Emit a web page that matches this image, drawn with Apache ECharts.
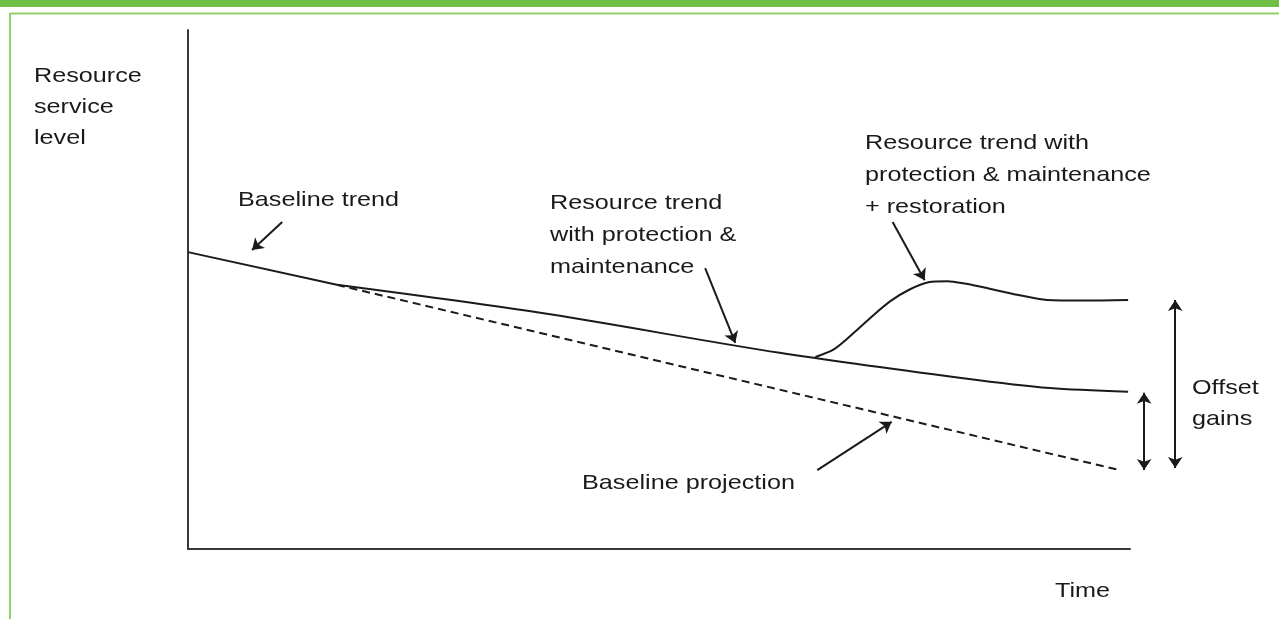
<!DOCTYPE html>
<html>
<head>
<meta charset="utf-8">
<title>Resource service level</title>
<script src="https://cdn.jsdelivr.net/npm/echarts@6/dist/echarts.min.js"></script>
<style>
  html, body { margin: 0; padding: 0; background: #fff; }
  #chart { width: 1279px; height: 619px; }
</style>
</head>
<body>
<div id="chart"></div>
<script>
// x: time (0-100), y: resource service level (0-100)
const baselineTrend = [[0, 57.2], [15.8, 50.9]];
const baselineProjection = [[15.8, 50.9], [98.9, 15.2]];
const protectionTrend = [[15.8, 50.9], [37.4, 45.5], [62.8, 37.8], [82.3, 32.9], [91.5, 31.0], [99.8, 30.3]];
const restorationTrend = [
  [66.6, 37.0], [68.6, 38.5], [70.6, 41.5], [72.6, 44.8], [74.6, 47.8], [76.6, 50.0],
  [78.6, 51.4], [80.6, 51.6], [82.6, 51.1], [85.0, 50.2], [88.0, 49.0], [91.2, 48.0],
  [95.0, 47.9], [99.8, 48.0]
];

// annotation arrows: [from, to]
const pointerArrows = [
  [[10.0, 63.0], [6.8, 57.6]],
  [[54.9, 54.1], [58.1, 39.7]],
  [[74.8, 63.0], [78.2, 51.8]],
  [[66.8, 15.2], [74.7, 24.5]]
];
// offset gains: double-headed arrows
const offsetArrows = [
  [[101.5, 30.1], [101.5, 15.2]],
  [[104.8, 48.0], [104.8, 15.6]]
];

const ink = '#1a1a1a';
const textScale = 1.2;

// 文本标注
function label(text, x, y, lh) {
  return {
    type: 'text',
    x: x, y: y,
    scaleX: textScale,
    style: {
      text: text,
      fill: ink,
      fontSize: 21,
      fontFamily: '"Liberation Sans", Arial, sans-serif',
      textAlign: 'left',
      textVerticalAlign: 'top',
      lineHeight: lh || 31
    }
  };
}

const chart = echarts.init(document.getElementById('chart'));

const option = {
  backgroundColor: '#fff',
  animation: false,
  grid: { left: 188, right: 149, top: 30, bottom: 70 },
  xAxis: {
    type: 'value', min: 0, max: 100,
    axisLine: { show: true, lineStyle: { color: '#3a3a3a', width: 2 } },
    axisTick: { show: false }, axisLabel: { show: false }, splitLine: { show: false }
  },
  yAxis: {
    type: 'value', min: 0, max: 100,
    axisLine: { show: true, lineStyle: { color: '#3a3a3a', width: 2 } },
    axisTick: { show: false }, axisLabel: { show: false }, splitLine: { show: false }
  },
  graphic: [
    // 绿色边框
    { type: 'rect', shape: { x: 0, y: 0, width: 1279, height: 7 }, style: { fill: '#6fbf44' } },
    { type: 'line', shape: { x1: 10, y1: 13.5, x2: 1279, y2: 13.5 }, style: { stroke: '#8fd06a', lineWidth: 2 } },
    { type: 'line', shape: { x1: 10, y1: 13, x2: 10, y2: 619 }, style: { stroke: '#8fd06a', lineWidth: 2 } },
    label('Resource\nservice\nlevel', 34, 61),
    label('Baseline trend', 238, 185),
    label('Resource trend\nwith protection &\nmaintenance', 550, 187, 32),
    label('Resource trend with\nprotection & maintenance\n+ restoration', 865, 127, 32),
    label('Baseline projection', 582, 468),
    label('Time', 1055, 576),
    label('Offset\ngains', 1192, 373)
  ],
  series: [
    {
      name: 'Baseline trend', type: 'line', data: baselineTrend,
      symbol: 'none', lineStyle: { color: ink, width: 2 }
    },
    {
      name: 'Baseline projection', type: 'line', data: baselineProjection,
      symbol: 'none', lineStyle: { color: ink, width: 2, type: [8, 5] }
    },
    {
      name: 'Protection & maintenance', type: 'line', data: protectionTrend,
      symbol: 'none', smooth: 0.3, lineStyle: { color: ink, width: 2 }
    },
    {
      name: 'Restoration', type: 'line', data: restorationTrend,
      symbol: 'none', smooth: 0.3, lineStyle: { color: ink, width: 2 }
    },
    {
      name: 'pointers', type: 'lines', coordinateSystem: 'cartesian2d', clip: false,
      symbol: ['none', 'arrow'], symbolSize: 11,
      lineStyle: { color: ink, width: 2, opacity: 1 },
      data: pointerArrows.map(a => ({ coords: a }))
    },
    {
      name: 'offset', type: 'lines', coordinateSystem: 'cartesian2d', clip: false,
      symbol: ['arrow', 'arrow'], symbolSize: 11,
      lineStyle: { color: ink, width: 2, opacity: 1 },
      data: offsetArrows.map(a => ({ coords: a }))
    }
  ]
};

chart.setOption(option);
</script>
</body>
</html>
